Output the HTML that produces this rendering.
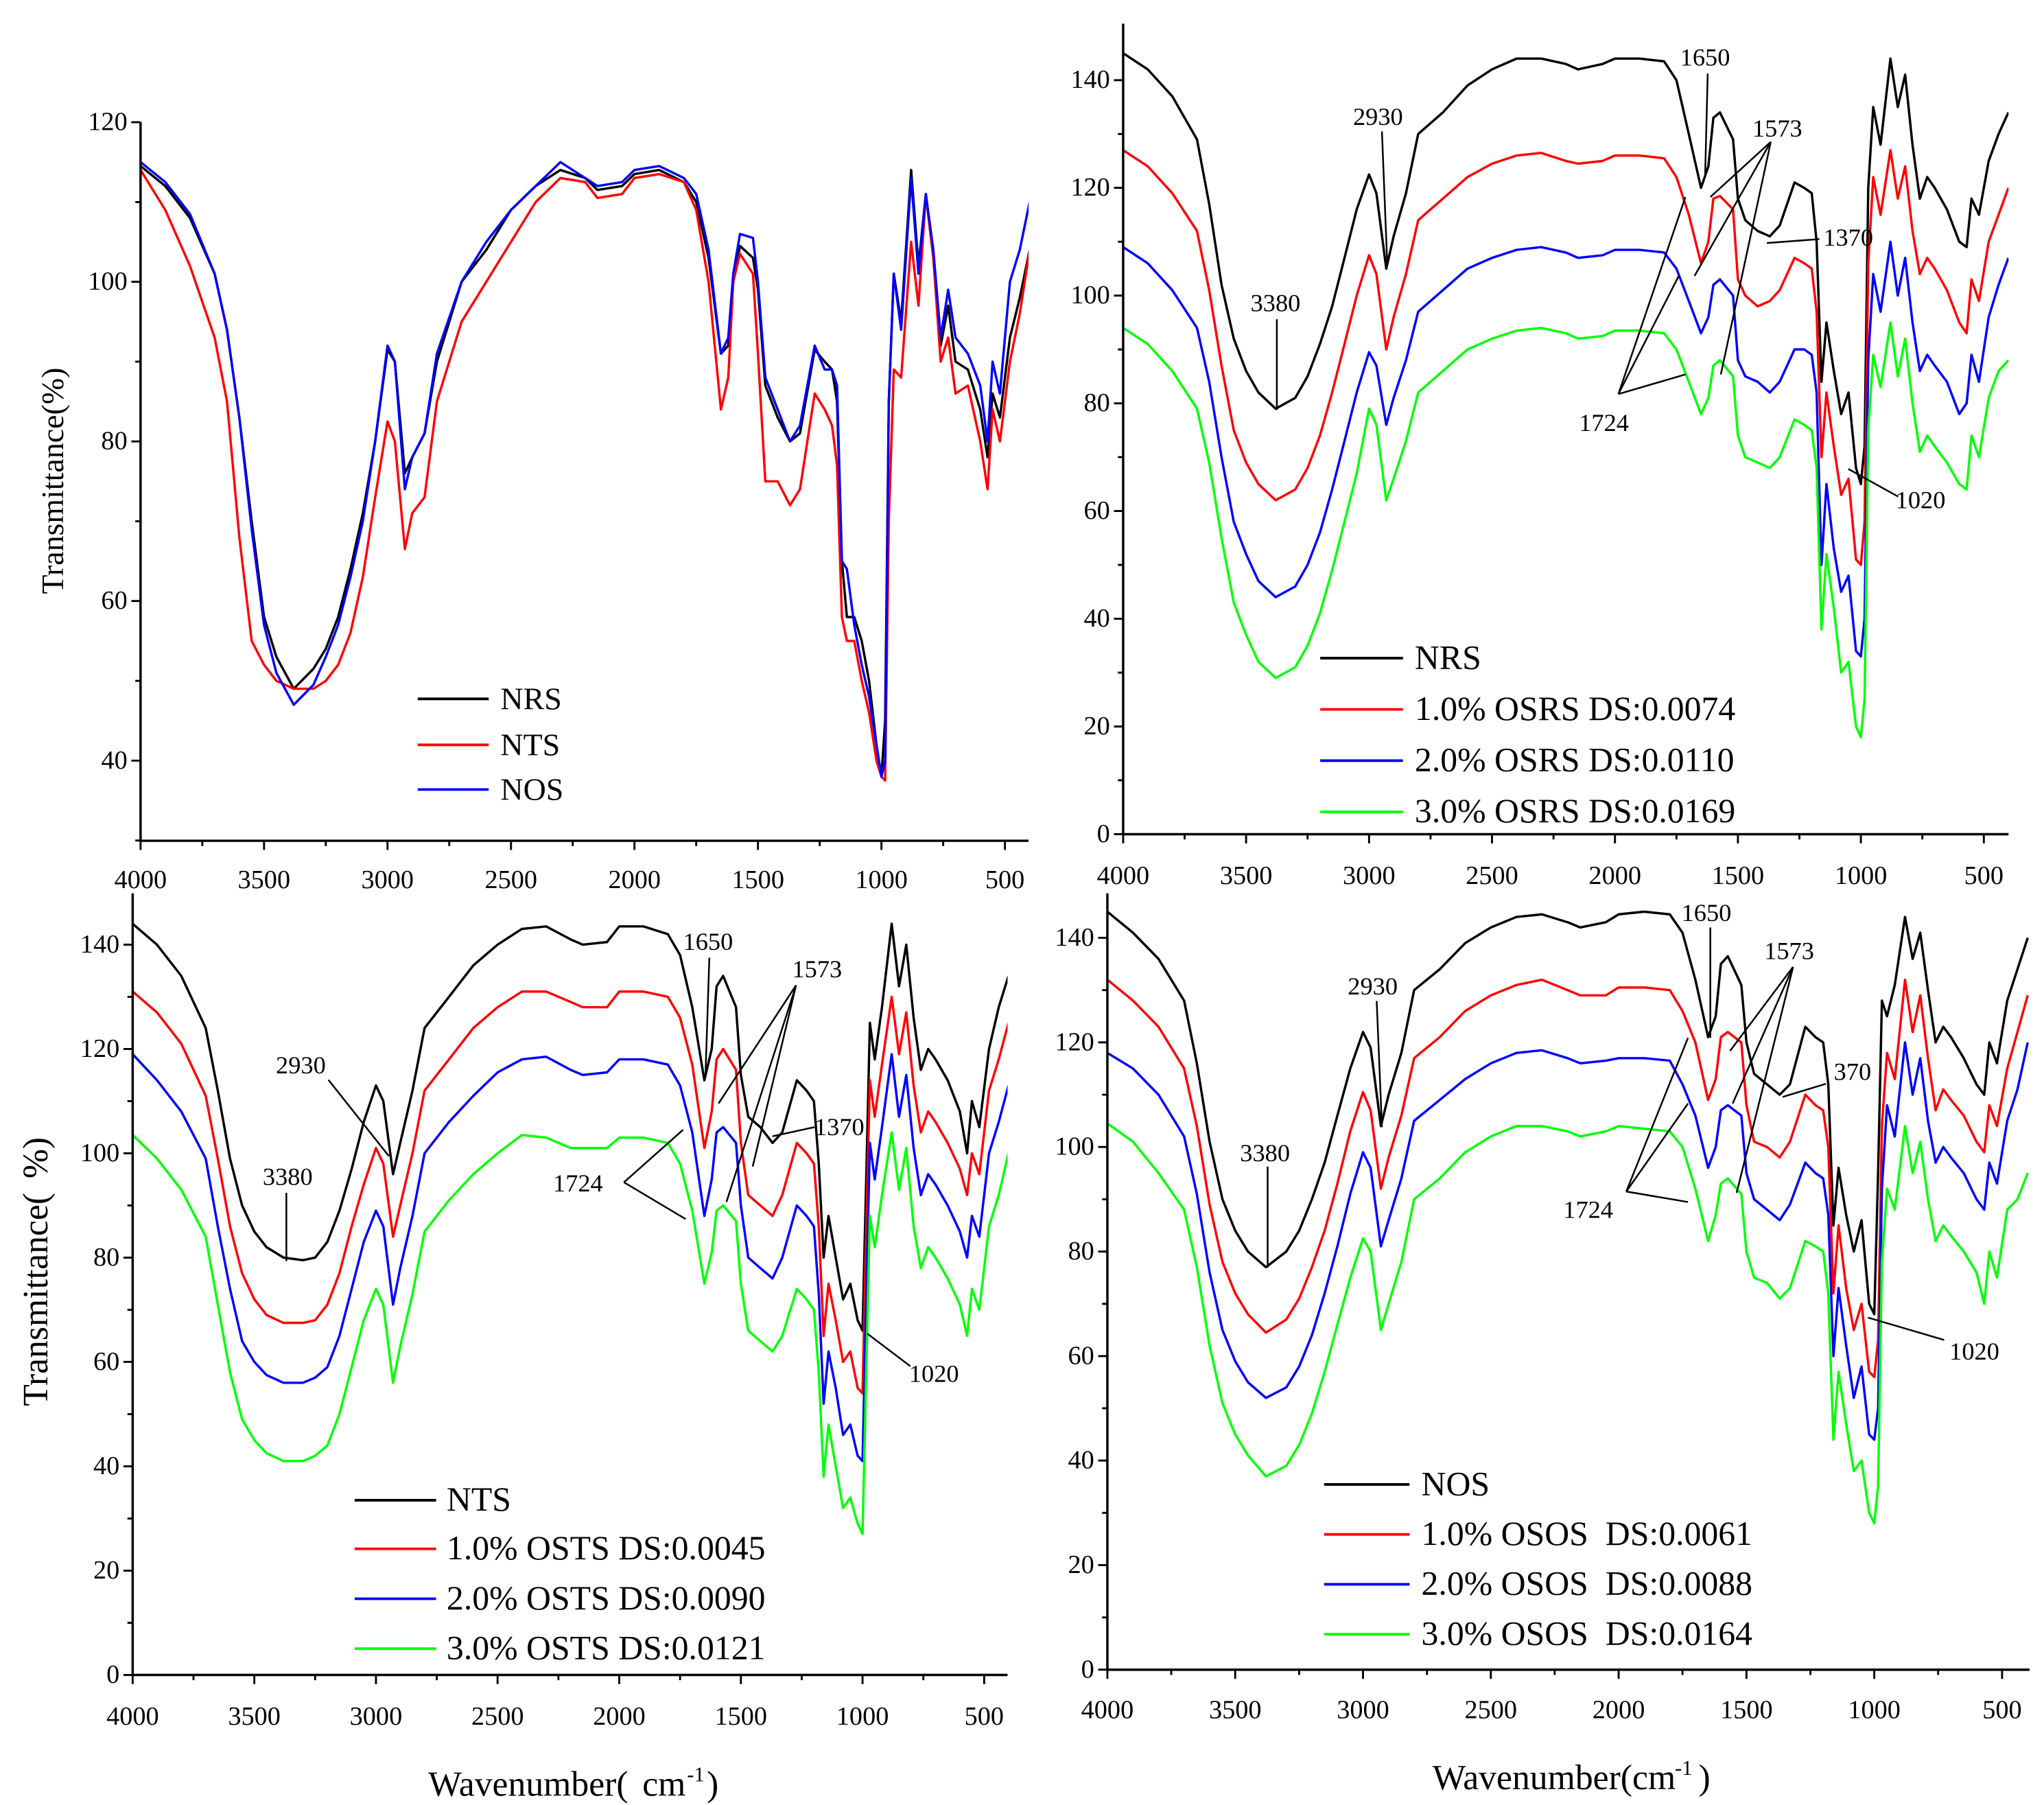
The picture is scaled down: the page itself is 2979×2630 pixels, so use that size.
<!DOCTYPE html>
<html><head><meta charset="utf-8">
<style>
html,body{margin:0;padding:0;background:#fff;}
svg{display:block;}
svg text{font-family:"Liberation Serif","Times New Roman","DejaVu Serif",serif !important;fill:#000;}
</style></head>
<body>
<svg id="chart" width="2979" height="2630" viewBox="0 0 1556 1374" preserveAspectRatio="none" font-family="Liberation Serif, Times New Roman, serif" xmlns="http://www.w3.org/2000/svg">
<rect width="1556" height="1374" fill="#fff"/>
<g id="root"></g>
</svg>
<script>
// shared wavenumber grid (cm-1)
const wavenumbers = [4000,3900,3800,3700,3650,3600,3550,3500,3450,3380,3300,3250,3200,3150,3100,3050,3000,2970,2930,2900,2850,2800,2700,2600,2500,2400,2300,2200,2150,2050,2000,1900,1800,1750,1700,1650,1620,1600,1573,1520,1500,1470,1420,1370,1330,1270,1230,1200,1180,1160,1140,1110,1080,1050,1020,1000,985,970,950,920,880,850,820,790,760,730,700,650,600,570,550,520,480,440,400];

// Panel A
const seriesNRS = [114.5,112,108,101,94, 83,70,58,53,49, 51.5,54,58,64,71, 80,91.5,90,76,78, 81,90,100,104,109, 112,114,113,111.5,112, 113.5,114,112.5,110,103, 91,92,100,104.5,103, 99,87,83,80,81, 91.5,90,89,85,65, 58,58,55,50,42, 38,45,85,101,95, 114,102,111,103,92, 97,90,89,84,78, 86,83,93,98,104];
const seriesNTS = [114,109,102,93,85, 68,55,52,50,49, 49,50,52,56,63, 73,82.5,80,66.5,71, 73,85,95,100,105, 110,113,112.5,110.5,111, 113,113.5,112.5,109,100, 84,88,100,103.5,101, 91,75,75,72,74, 86,84,82,77,58, 55,55,50,46,40, 38,37.5,70,89,88, 105,97,111,103,90, 93,86,87,80,74, 84,80,90,96,104];
const seriesNOS = [115,112.5,108.5,101,94, 83,69,57,51,47, 49.5,53,57,63,70, 80,92,90,74,78, 81,91,100,105,109, 112,115,113,112,112.5, 114,114.5,113,111,104, 91,93,101,106,105.5, 100,88,84,80,82, 92,89,89,87,65, 64,57,52,48,42, 38,40,85,101,94, 113,101,111,104,93, 99,93,91,87,80, 90,86,100,104,110];

// Panel B (OSRS)
const seriesB0 = [145,142,137,129,117, 102,92,86,82,79, 81,85,91,98,107, 116,122.5,119,105,111, 119,130,134,139,142, 144,144,143,142,143, 144,144,143.5,140,130, 120,124,133,134,129, 118,114,112,111,113, 121,120,119,110,84, 95,86,78,82,68, 65,72,120,135,128, 144,135,141,128,118, 122,120,116,110,109, 118,115,125,130,134];
const seriesB1 = [127,124,119,112,101, 87,75,69,65,62, 64,68,74,82,91, 100,107.5,104,90,96, 104,114,118,122,124.5, 126,126.5,125,124.5,125, 126,126,125.5,122,115, 106,110,118,118.5,116, 103,100,98,99,101, 107,106,105,97,70, 82,72,63,66,51, 50,58,106,122,115, 127,118,124,112,104, 107,105,101,95,93, 103,99,110,115,120];
const seriesB2 = [109,106,101,94,84, 70,58,52,47,44, 46,50,56,64,73, 82,89.5,87,76,81, 88,97,101,105,107, 108.5,109,108,107,107.5, 108.5,108.5,108,105,99, 93,96,102,103,100, 88,85,84,82,84, 90,90,89,82,50, 65,53,45,48,34, 33,40,88,104,97, 110,100,107,95,86, 89,87,84,78,80, 89,84,96,102,107];
const seriesB3 = [94,91,86,79,69, 55,43,37,32,29, 31,35,41,49,58, 67,79,76,62,66, 73,82,86,90,92, 93.5,94,93,92,92.5, 93.5,93.5,93,90,84, 78,81,87,88,85, 74,70,69,68,70, 77,76,75,68,38, 52,42,30,32,20, 18,25,75,89,83, 95,85,92,80,71, 74,72,69,65,64, 74,70,81,86,88];

// Panel C (OSTS)
const seriesC0 = [144,140,134,124,112, 99,90,85,82,80, 79.5,80,83,89,97, 106,113,110,96,102, 112,124,130,136,140, 143,143.5,141,140,140.5, 143.5,143.5,142,138,128, 114,120,132,134,128, 115,107,105,102,104, 114,112,110,98,80, 88,80,72,75,68, 66,95,125,118,128, 144,132,140,126,116, 120,118,114,108,100, 110,105,120,128,134];
const seriesC1 = [131,127,121,111,99, 86,77,72,69,67.5, 67.5,68,71,77,86, 94,101,98,84,90, 100,112,118,124,128, 131,131,129,128,128, 131,131,130,126,117, 101,108,118,120,116, 102,92,90,88,92, 102,100,98,86,65, 75,68,60,62,55, 54,85,114,107,117, 130,119,127,113,104, 108,106,102,97,92, 100,96,112,118,125];
const seriesC2 = [119,114,108,99,86, 74,64,60,57.5,56, 56,57,59,65,74, 83,89,86,71,78, 88,100,106,111,115.5, 118,118.5,116,115,115.5, 118,118,117,113,104, 88,95,104,105,102, 90,80,78,76,80, 90,88,86,73,52, 62,55,46,48,42, 41,72,102,95,105, 119,107,115,101,92, 96,94,90,85,80, 88,84,100,106,113];
const seriesC3 = [103.5,99,93,84,71, 58,49,45,42.5,41, 41,42,44,50,59, 68,74,71,56,63, 73,85,91,96,100, 103.5,103,101,101,101, 103,103,102,98,89, 75,81,89,90,87, 75,66,64,62,65, 74,72,70,58,38, 48,40,32,34,29, 27,58,88,82,92, 104,93,101,86,78, 82,80,76,71,65, 74,70,86,92,100];

// Panel D (OSOS)
const seriesD0 = [145,141,136,128,116, 101,90,84,80,77, 80,84,90,97,106, 115,122,119,104,110, 118,130,134,139,142, 144,144.5,143,142,143, 144.5,145,144.5,141,132, 121,125,135,136.5,131, 120,114,112,110,112, 123,121,120,112,85, 96,87,80,86,70, 68,95,128,125,131, 144,136,141,130,120, 123,121,117,112,110, 120,116,128,134,140];
const seriesD1 = [132,128,123,115,104, 89,78,72,68,64.5, 67,71,77,84,93, 103,110.5,107,92,98, 106,117,121,126,129, 131,132,130,129,129, 130.5,130.5,130,126,120, 109,113,121,122,120, 108,101,100,98,101, 110,108,107,100,72, 85,73,65,70,57, 56,63,104,118,113, 132,122,129,117,107, 111,109,106,101,99, 108,104,115,122,129];
const seriesD2 = [118,115,110,102,91, 76,65,59,55,52, 54,58,64,72,81, 91,99,96,81,86, 94,105,109,113,116, 118,118.5,117,116,116.5, 117,117,116.5,112,106, 96,100,107,108,106, 95,90,88,86,89, 97,95,94,87,60, 73,62,52,58,45, 44,50,92,108,102, 120,110,117,105,97, 100,98,95,90,88, 97,93,105,111,120];
const seriesD3 = [104.5,101,95,88,77, 62,51,45,41,37, 39,43,49,57,66, 75,82.5,80,65,70, 78,90,94,99,102, 104,104,103,102,103, 104,103.5,103,100,92, 82,87,93,94,91, 80,75,74,71,73, 82,81,80,72,44, 57,47,38,40,30, 28,35,78,92,88, 104,95,101,90,82, 85,83,80,76,70, 80,75,88,90,95];

const xTickLabels = [4000,3500,3000,2500,2000,1500,1000,500];
const yTicksA = [40,60,80,100,120];
const yTicksBCD = [0,20,40,60,80,100,120,140];

const NS="http://www.w3.org/2000/svg";
const FONT='"Liberation Serif","Times New Roman",serif';
const root=document.getElementById('root');
function mk(tag,attrs,parent){const e=document.createElementNS(NS,tag);for(const k in attrs)e.setAttribute(k,attrs[k]);if(tag==='text'){e.setAttribute('font-family',FONT);e.style.fontFamily=FONT;}(parent||root).appendChild(e);return e;}

const panels=[
 {id:'a',left:107,right:783,bottom:640,top:93,pxPer:94/500,y0v:120,y0p:93,k:6.075,ymin:30,yTicks:yTicksA,minorY:10,labY:676,
  series:[['nrs',seriesNRS,'#000'],['nts',seriesNTS,'#f00'],['nos',seriesNOS,'#00f']]},
 {id:'b',left:855,right:1529,bottom:635,top:18,pxPer:93.6/500,y0v:0,y0p:635,k:4.1,ymin:0,yTicks:yTicksBCD,minorY:10,labY:673,
  series:[['nrs',seriesB0,'#000'],['osrs-1',seriesB1,'#f00'],['osrs-2',seriesB2,'#00f'],['osrs-3',seriesB3,'#0f0']]},
 {id:'c',left:101,right:767,bottom:1275,top:680,pxPer:92.6/500,y0v:0,y0p:1275,k:3.971,ymin:0,yTicks:yTicksBCD,minorY:10,labY:1313,
  series:[['nts',seriesC0,'#000'],['osts-1',seriesC1,'#f00'],['osts-2',seriesC2,'#00f'],['osts-3',seriesC3,'#0f0']]},
 {id:'d',left:843,right:1545,bottom:1271,top:680,pxPer:97.3/500,y0v:0,y0p:1271,k:3.979,ymin:0,yTicks:yTicksBCD,minorY:10,labY:1308,
  series:[['nos',seriesD0,'#000'],['osos-1',seriesD1,'#f00'],['osos-2',seriesD2,'#00f'],['osos-3',seriesD3,'#0f0']]}
];

panels.forEach(p=>{
  const g=mk('g',{});
  
  
  const X=w=>p.left+(4000-w)*p.pxPer;
  const Y=v=>p.y0p-(v-p.y0v)*p.k;
  const cp=mk('clipPath',{id:'clip-'+p.id},g);
  mk('rect',{x:p.left,y:p.top-5,width:p.right-p.left,height:p.bottom-p.top+5},cp);
  const sg=mk('g',{'clip-path':'url(#clip-'+p.id+')'},g);
  p.series.forEach(s=>{
    let d='';
    for(let i=0;i<wavenumbers.length;i++){d+=(i?'L':'M')+X(wavenumbers[i]).toFixed(1)+','+Y(s[1][i]).toFixed(1);}
    const path=mk('path',{d:d,fill:'none',stroke:s[2],'stroke-width':1.8,'stroke-linejoin':'round'},sg);
    
    
  });
  const ax=mk('path',{d:`M${p.left},${p.top}V${p.bottom}H${p.right}`,fill:'none',stroke:'#000','stroke-width':1.8},g);
  
  
  let td='';
  for(let w=4000;w>=400;w-=250){const x=X(w);if(x>p.right+0.5)continue;const major=(w%500===0);td+=`M${x.toFixed(1)},${p.bottom}v${major?7:4}`;}
  for(let v=p.ymin;v<=p.yTicks[p.yTicks.length-1]+0.1;v+=p.minorY){const y=Y(v);const major=p.yTicks.indexOf(v)>=0;td+=`M${p.left},${y.toFixed(1)}h${major?-7:-4}`;}
  mk('path',{d:td,stroke:'#000','stroke-width':1.5,fill:'none'},g);
  xTickLabels.forEach(w=>{
    const t=mk('text',{x:X(w),y:p.labY,'text-anchor':'middle','font-size':20},g);
    t.textContent=w;
    
    
  });
  p.yTicks.forEach(v=>{
    const t=mk('text',{x:p.left-10,y:Y(v)+6,'text-anchor':'end','font-size':20},g);
    t.textContent=v;
    
    
  });
});

function txt(x,y,s,size,name,extra){const t=mk('text',Object.assign({x:x,y:y,'font-size':size},extra||{}));t.textContent=s;return t;}
function ln(pts,name){const l=mk('polyline',{points:pts,fill:'none',stroke:'#000','stroke-width':1.3});}
function leg(x1,x2,tx,y,color,label,size){
  const l=mk('line',{x1:x1,x2:x2,y1:y,y2:y,stroke:color,'stroke-width':2});
  
  
  txt(tx,y+8,label,size,'legend-label');
}
txt(48,366,'Transmittance(%)',24,'y-axis-title-a',{transform:'rotate(-90 48 366)','text-anchor':'middle'});
txt(36,968,'Transmittance(\u2009\u2009%)',27,'y-axis-title-c',{transform:'rotate(-90 36 968)','text-anchor':'middle'});
txt(424,1367,'Wavenumber(\u2009\u2009cm',27,'x-axis-title-c',{'text-anchor':'middle'});
txt(523,1356,'-1',16,'x-axis-title-c-sup');txt(538,1367,')',27,'x-axis-title-c-paren');
txt(1183,1362,'Wavenumber(cm',27,'x-axis-title-d',{'text-anchor':'middle'});
txt(1275,1351,'-1',16,'x-axis-title-d-sup');txt(1293,1362,')',27,'x-axis-title-d-paren');
leg(318,372,381,532,'#000','NRS',24);leg(318,372,381,567,'#f00','NTS',24);leg(318,372,381,601,'#00f','NOS',24);
leg(1005,1068,1077,501,'#000','NRS',26);leg(1005,1068,1077,540,'#f00','1.0% OSRS DS:0.0074',26);leg(1005,1068,1077,579,'#00f','2.0% OSRS DS:0.0110',26);leg(1005,1068,1077,618,'#0f0','3.0% OSRS DS:0.0169',26);
leg(270,332,340,1142,'#000','NTS',26);leg(270,332,340,1179,'#f00','1.0% OSTS DS:0.0045',26);leg(270,332,340,1217,'#00f','2.0% OSTS DS:0.0090',26);leg(270,332,340,1255,'#0f0','3.0% OSTS DS:0.0121',26);
leg(1008,1073,1082,1130,'#000','NOS',26);leg(1008,1073,1082,1168,'#f00','1.0% OSOS\u2002DS:0.0061',26);leg(1008,1073,1082,1206,'#00f','2.0% OSOS\u2002DS:0.0088',26);leg(1008,1073,1082,1244,'#0f0','3.0% OSOS\u2002DS:0.0164',26);
txt(952,237,'3380',19,'annot-3380');ln('972,243 972,312','annot-line');
txt(1030,95,'2930',19,'annot-2930');ln('1052,100 1056,200','annot-line');
txt(1279,50,'1650',19,'annot-1650');ln('1300,56 1298,135','annot-line');
txt(1334,104,'1573',19,'annot-1573');ln('1348,108 1302,150','annot-line');ln('1348,108 1290,210','annot-line');ln('1348,108 1310,285','annot-line');
txt(1202,328,'1724',19,'annot-1724');ln('1232,300 1283,150','annot-line');ln('1232,300 1278,210','annot-line');ln('1232,300 1283,285','annot-line');
txt(1388,187,'1370',19,'annot-1370');ln('1345,185 1385,182','annot-line');
txt(1443,387,'1020',19,'annot-1020');ln('1407,357 1445,378','annot-line');
txt(200,902,'3380',19,'annot-3380');ln('218,908 218,960','annot-line');
txt(210,817,'2930',19,'annot-2930');ln('250,822 296,880','annot-line');
txt(520,723,'1650',19,'annot-1650');ln('540,729 537,820','annot-line');
txt(603,744,'1573',19,'annot-1573');ln('606,750 547,840','annot-line');ln('606,750 573,888','annot-line');ln('606,750 553,915','annot-line');
txt(421,907,'1724',19,'annot-1724');ln('475,900 520,860','annot-line');ln('475,900 522,928','annot-line');
txt(620,864,'1370',19,'annot-1370');ln('588,865 620,858','annot-line');
txt(692,1052,'1020',19,'annot-1020');ln('660,1015 693,1040','annot-line');
txt(944,884,'3380',19,'annot-3380');ln('965,888 965,965','annot-line');
txt(1026,757,'2930',19,'annot-2930');ln('1048,762 1052,858','annot-line');
txt(1280,701,'1650',19,'annot-1650');ln('1302,706 1302,790','annot-line');
txt(1343,730,'1573',19,'annot-1573');ln('1365,736 1317,800','annot-line');ln('1365,736 1319,840','annot-line');ln('1365,736 1322,908','annot-line');
txt(1190,927,'1724',19,'annot-1724');ln('1238,907 1285,790','annot-line');ln('1238,907 1285,840','annot-line');ln('1238,907 1285,915','annot-line');
txt(1396,822,'370',19,'annot-1370');ln('1357,835 1390,825','annot-line');
txt(1484,1035,'1020',19,'annot-1020');ln('1422,1003 1480,1020','annot-line');
</script>
</body></html>
